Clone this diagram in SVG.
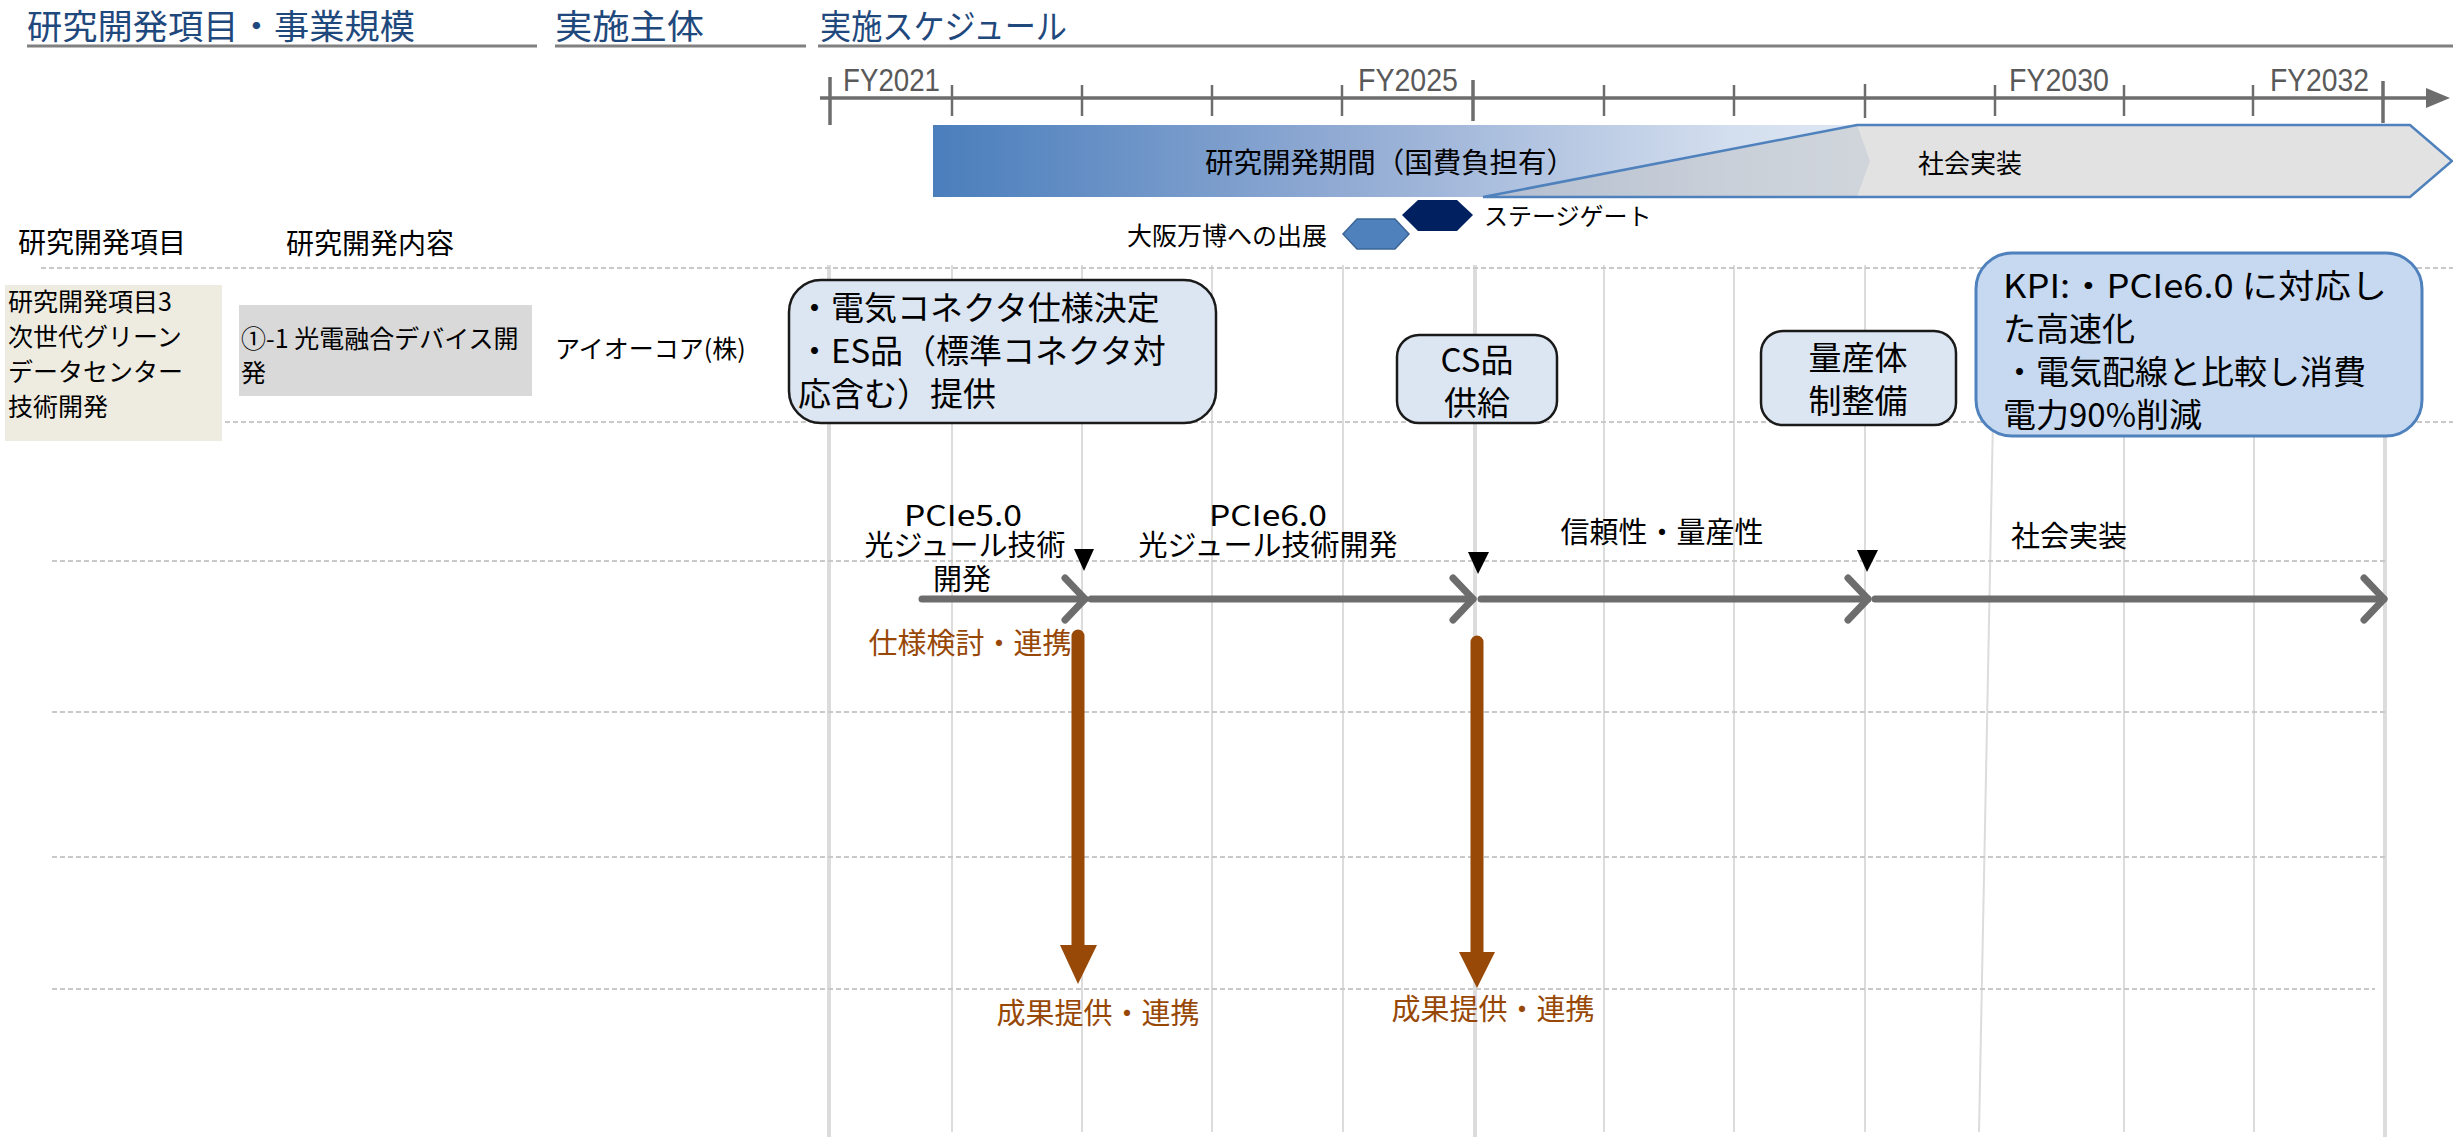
<svg xmlns="http://www.w3.org/2000/svg" width="2453" height="1137" viewBox="0 0 2453 1137">
<defs>
<linearGradient id="rdGrad" x1="0" y1="0" x2="1" y2="0">
<stop offset="0" stop-color="#4a7ebc"/>
<stop offset="0.45" stop-color="#93acd4"/>
<stop offset="0.85" stop-color="#d3deee"/>
<stop offset="1" stop-color="#dfe8f4"/>
</linearGradient>
<style>
.jp{font-family:"Noto Sans CJK JP","Noto Sans",sans-serif;dominant-baseline:central;fill:#000}
.title{font-size:34px;fill:#1f497d}
.fy{font-family:"Liberation Sans",Arial,sans-serif;font-size:32px;fill:#595959}
.uline{stroke:#808080;stroke-width:3}
.tick{stroke:#6d6d6d;stroke-width:2.5}
.tickL{stroke:#6d6d6d;stroke-width:3.5}
.vgrid{stroke:#dcdcdc;stroke-width:2}
.vgridT{stroke:#dcdcdc;stroke-width:4}
.hdash{stroke:#c9c9c9;stroke-width:2;stroke-dasharray:5 3}
.mbox{fill:#dce6f2;stroke:#1a1a1a;stroke-width:2.5}
.kpi{fill:#c6d9f1;stroke:#4f81bd;stroke-width:3}
.prog{stroke:#6d6d6d;stroke-width:7;fill:none;stroke-linecap:round;stroke-linejoin:round}
.org{fill:#984806}
.ostroke{stroke:#984807;stroke-width:13;stroke-linecap:round}
.f25{font-size:25px}
.f28{font-size:28px}
.f29{font-size:29px}
.f33{font-size:33px}
</style>
</defs>
<rect width="2453" height="1137" fill="#ffffff"/>

<g id="grid">
<line class="vgridT" x1="829" y1="265" x2="829" y2="1137"/>
<line class="vgrid" x1="952" y1="265" x2="952" y2="1132"/>
<line class="vgrid" x1="1082" y1="265" x2="1082" y2="1132"/>
<line class="vgrid" x1="1212" y1="265" x2="1212" y2="1132"/>
<line class="vgrid" x1="1343" y1="265" x2="1343" y2="1132"/>
<line class="vgridT" x1="1475" y1="265" x2="1475" y2="1137"/>
<line class="vgrid" x1="1604" y1="265" x2="1604" y2="1132"/>
<line class="vgrid" x1="1734" y1="265" x2="1734" y2="1132"/>
<line class="vgrid" x1="1865" y1="265" x2="1865" y2="1132"/>
<line class="vgrid" x1="1996" y1="265" x2="1979" y2="1132"/>
<line class="vgrid" x1="2124" y1="265" x2="2124" y2="1132"/>
<line class="vgrid" x1="2254" y1="265" x2="2254" y2="1132"/>
<line class="vgridT" x1="2385" y1="265" x2="2385" y2="1137"/>
<line class="hdash" x1="41" y1="268" x2="2453" y2="268"/>
<line class="hdash" x1="41" y1="422" x2="2453" y2="422"/>
<line class="hdash" x1="52" y1="561" x2="2385" y2="561"/>
<line class="hdash" x1="52" y1="712" x2="2385" y2="712"/>
<line class="hdash" x1="52" y1="857" x2="2385" y2="857"/>
<line class="hdash" x1="52" y1="989" x2="2375" y2="989"/>
</g>

<g id="header">
<text class="jp title" x="27" y="24" textLength="388" lengthAdjust="spacingAndGlyphs">研究開発項目・事業規模</text>
<text class="jp title" x="555" y="24" textLength="149" lengthAdjust="spacingAndGlyphs">実施主体</text>
<text class="jp title" x="820" y="24" textLength="247" lengthAdjust="spacingAndGlyphs">実施スケジュール</text>
<line class="uline" x1="27" y1="46" x2="537" y2="46"/>
<line class="uline" x1="555" y1="46" x2="806" y2="46"/>
<line class="uline" x1="818" y1="46" x2="2453" y2="46"/>
</g>

<g id="axis">
<line x1="820" y1="98" x2="2440" y2="98" stroke="#6d6d6d" stroke-width="3.5"/>
<polygon points="2426,88 2450,98 2426,108" fill="#6d6d6d"/>
<line class="tickL" x1="830" y1="77" x2="830" y2="125"/>
<line class="tick" x1="952" y1="85" x2="952" y2="116"/>
<line class="tick" x1="1082" y1="85" x2="1082" y2="116"/>
<line class="tick" x1="1212" y1="85" x2="1212" y2="116"/>
<line class="tick" x1="1342" y1="85" x2="1342" y2="116"/>
<line class="tickL" x1="1473" y1="80" x2="1473" y2="121"/>
<line class="tick" x1="1604" y1="85" x2="1604" y2="116"/>
<line class="tick" x1="1734" y1="85" x2="1734" y2="116"/>
<line class="tick" x1="1865" y1="84" x2="1865" y2="118"/>
<line class="tick" x1="1995" y1="85" x2="1995" y2="116"/>
<line class="tick" x1="2124" y1="85" x2="2124" y2="116"/>
<line class="tick" x1="2253" y1="85" x2="2253" y2="116"/>
<line class="tickL" x1="2383" y1="81" x2="2383" y2="123"/>
<text class="fy" x="843" y="91" textLength="97" lengthAdjust="spacingAndGlyphs">FY2021</text>
<text class="fy" x="1358" y="91" textLength="100" lengthAdjust="spacingAndGlyphs">FY2025</text>
<text class="fy" x="2009" y="91" textLength="100" lengthAdjust="spacingAndGlyphs">FY2030</text>
<text class="fy" x="2270" y="91" textLength="99" lengthAdjust="spacingAndGlyphs">FY2032</text>
</g>

<g id="rd-period">
<polygon points="933,125 1857,125 1870,161 1857,197 933,197" fill="url(#rdGrad)"/>
<text class="jp" x="1390" y="161" font-size="28" text-anchor="middle" textLength="370" lengthAdjust="spacingAndGlyphs">研究開発期間（国費負担有）</text>
</g>

<g id="social-impl-band">
<polygon points="1857,125 2410,125 2452,161 2410,197 1483,197" fill="#bfbfbf" fill-opacity="0.45" stroke="#4f81bd" stroke-width="2.5"/>
<text class="jp" x="1970" y="161" font-size="26" text-anchor="middle">社会実装</text>
</g>

<g id="osaka-expo">
<polygon points="1343,234 1357,219 1395,219 1409,234 1395,249 1357,249" fill="#4f81bd" stroke="#3c6597" stroke-width="1.5"/>
<text class="jp" x="1327" y="234" font-size="25" text-anchor="end">大阪万博への出展</text>
</g>

<g id="stage-gate">
<polygon points="1402,215 1418,200 1457,200 1473,215 1457,231 1418,231" fill="#002060"/>
<text class="jp" x="1484" y="214" font-size="24">ステージゲート</text>
</g>

<g id="col-headers">
<text class="jp f28" x="18" y="241">研究開発項目</text>
<text class="jp f28" x="286" y="242">研究開発内容</text>
</g>

<g id="item3">
<rect x="5" y="285" width="217" height="156" fill="#eeece1"/>
<text class="jp f25" x="8" y="300">研究開発項目3</text>
<text class="jp f25" x="8" y="335">次世代グリーン</text>
<text class="jp f25" x="8" y="370">データセンター</text>
<text class="jp f25" x="8" y="405">技術開発</text>
</g>

<g id="content-1-1">
<rect x="239" y="305" width="293" height="91" fill="#d9d9d9"/>
<text class="jp f25" x="241" y="337">①-1 光電融合デバイス開</text>
<text class="jp f25" x="241" y="371">発</text>
</g>

<g id="entity">
<text class="jp f25" x="555" y="347">アイオーコア(株)</text>
</g>

<g id="ms-es">
<rect class="mbox" x="789" y="280" width="427" height="143" rx="32"/>
<text class="jp f33" x="798" y="306">・電気コネクタ仕様決定</text>
<text class="jp f33" x="798" y="349">・ES品（標準コネクタ対</text>
<text class="jp f33" x="798" y="392">応含む）提供</text>
</g>

<g id="ms-cs">
<rect class="mbox" x="1397" y="335" width="160" height="88" rx="22"/>
<text class="jp f33" x="1477" y="358" text-anchor="middle">CS品</text>
<text class="jp f33" x="1477" y="401" text-anchor="middle">供給</text>
</g>

<g id="ms-mass">
<rect class="mbox" x="1761" y="331" width="195" height="94" rx="22"/>
<text class="jp f33" x="1858" y="356" text-anchor="middle">量産体</text>
<text class="jp f33" x="1858" y="399" text-anchor="middle">制整備</text>
</g>

<g id="kpi">
<rect class="kpi" x="1976" y="253" width="446" height="183" rx="36"/>
<text class="jp f33" x="2003" y="284" textLength="384" lengthAdjust="spacingAndGlyphs">KPI:・PCIe6.0 に対応し</text>
<text class="jp f33" x="2003" y="327">た高速化</text>
<text class="jp f33" x="2003" y="370">・電気配線と比較し消費</text>
<text class="jp f33" x="2003" y="413">電力90%削減</text>
</g>

<g id="phase-labels">
<text class="jp f29" x="963" y="513" text-anchor="middle" textLength="118" lengthAdjust="spacingAndGlyphs">PCIe5.0</text>
<text class="jp f29" x="965" y="543" text-anchor="middle">光ジュール技術</text>
<text class="jp f29" x="962" y="577" text-anchor="middle">開発</text>
<text class="jp f29" x="1268" y="513" text-anchor="middle" textLength="118" lengthAdjust="spacingAndGlyphs">PCIe6.0</text>
<text class="jp f29" x="1268" y="543" text-anchor="middle">光ジュール技術開発</text>
<text class="jp f29" x="1662" y="530" text-anchor="middle">信頼性・量産性</text>
<text class="jp f29" x="2069" y="534" text-anchor="middle">社会実装</text>
</g>

<g id="connectors">
<line class="prog" x1="922" y1="599" x2="1085" y2="599"/>
<polyline class="prog" points="1065,578 1085,599 1065,620"/>
<line class="prog" x1="1091" y1="599" x2="1473" y2="599"/>
<polyline class="prog" points="1453,578 1473,599 1453,620"/>
<line class="prog" x1="1481" y1="599" x2="1868" y2="599"/>
<polyline class="prog" points="1848,578 1868,599 1848,620"/>
<line class="prog" x1="1875" y1="599" x2="2384" y2="599"/>
<polyline class="prog" points="2364,578 2384,599 2364,620"/>
<polygon points="1074,549 1094,549 1084,571" fill="#000"/>
<polygon points="1468,552 1489,552 1478,574" fill="#000"/>
<polygon points="1857,550 1878,550 1867,572" fill="#000"/>
<line class="ostroke" x1="1078" y1="636" x2="1078" y2="950"/>
<polygon points="1060,945 1097,945 1078,984" fill="#984807"/>
<line class="ostroke" x1="1477" y1="642" x2="1477" y2="957"/>
<polygon points="1459,952 1495,952 1477,988" fill="#984807"/>
</g>

<g id="collab-labels">
<text class="jp f29 org" x="970" y="641" text-anchor="middle">仕様検討・連携</text>
<text class="jp f29 org" x="1098" y="1011" text-anchor="middle">成果提供・連携</text>
<text class="jp f29 org" x="1493" y="1007" text-anchor="middle">成果提供・連携</text>
</g>
</svg>
